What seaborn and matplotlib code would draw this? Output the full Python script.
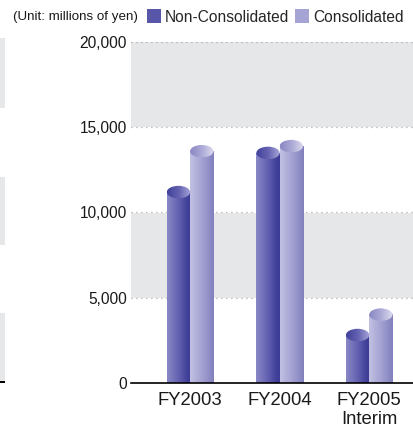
import numpy as np
import pandas as pd
import matplotlib
matplotlib.use("Agg")
import matplotlib.pyplot as plt
import seaborn as sns
from matplotlib.colors import LinearSegmentedColormap
from matplotlib.patches import Ellipse, Rectangle

# ---- data ----
periods = ["FY2003", "FY2004", "FY2005\nInterim"]
series_names = ["Non-Consolidated", "Consolidated"]
non_consolidated = [11200, 13500, 2800]
consolidated = [13600, 13900, 4000]
y_ticks = [0, 5000, 10000, 15000, 20000]
y_tick_labels = ["0", "5,000", "10,000", "15,000", "20,000"]
unit_label = "(Unit: millions of yen)"

df = pd.DataFrame({
    "period": periods * 2,
    "series": [series_names[0]] * 3 + [series_names[1]] * 3,
    "value": non_consolidated + consolidated,
})

sns.set_theme(style="white")
plt.rcParams["font.family"] = ["Liberation Sans", "DejaVu Sans"]

W, H = 414, 428
fig = plt.figure(figsize=(W / 100, H / 100), dpi=100)
ax_left, ax_right, ax_top, ax_bot = 131, 414, 42.3, 382.7
ax = fig.add_axes([ax_left / W, 1 - ax_bot / H, (ax_right - ax_left) / W, (ax_bot - ax_top) / H])

band = "#e6e7e8"
ax.axhspan(15000, 20000, color=band, lw=0, zorder=0)
ax.axhspan(5000, 10000, color=band, lw=0, zorder=0)
for yv in y_ticks[1:]:
    ax.axhline(yv, color="#8a8a8a", lw=0.9, ls=(0, (0.7, 3.3)), zorder=1)

palette = {series_names[0]: "#5a58aa", series_names[1]: "#a3a1d2"}
sns.barplot(data=df, x="period", y="value", hue="series", hue_order=series_names,
            order=periods, palette=palette, width=0.52, gap=0, ax=ax,
            saturation=1, legend=False, zorder=2)

body_maps = {
    series_names[0]: LinearSegmentedColormap.from_list(
        "nc", [(0, "#8a88c6"), (0.45, "#6664b2"), (0.85, "#40409a"), (1, "#3c3c94")]),
    series_names[1]: LinearSegmentedColormap.from_list(
        "c", [(0, "#c2c1e3"), (0.5, "#a4a2d2"), (1, "#8280bd")]),
}
top_maps = {
    series_names[0]: LinearSegmentedColormap.from_list(
        "nct", [(0, "#40409a"), (0.5, "#6462b0"), (1, "#a8a6d8")]),
    series_names[1]: LinearSegmentedColormap.from_list(
        "ct", [(0, "#8886c2"), (0.5, "#acaad6"), (1, "#dedcf0")]),
}

px_per_unit = (ax_bot - ax_top) / 20000
ell_h = 12.5 / px_per_unit

grad = np.linspace(0, 1, 256).reshape(1, -1)
for name, container in zip(series_names, ax.containers):
    for p in container.patches:
        x, w, h = p.get_x(), p.get_width(), p.get_height()
        p.set_visible(False)
        ax.imshow(grad, cmap=body_maps[name], extent=[x, x + w, 0, h], aspect="auto",
                  zorder=3, interpolation="bilinear")
        e = Ellipse((x + w / 2, h), w, ell_h, facecolor="none", edgecolor="none", zorder=4)
        ax.add_patch(e)
        im = ax.imshow(grad, cmap=top_maps[name],
                       extent=[x, x + w, h - ell_h / 2, h + ell_h / 2], aspect="auto",
                       zorder=4, interpolation="bilinear")
        im.set_clip_path(e)

ax.set_xlim(-0.66, 2.5)
ax.set_ylim(0, 20000)

for s in ["top", "right", "left"]:
    ax.spines[s].set_visible(False)
ax.spines["bottom"].set_color("black")
ax.spines["bottom"].set_linewidth(1.2)
ax.spines["bottom"].set_zorder(5)

ax.set_yticks(y_ticks)
ax.set_yticklabels(y_tick_labels, fontsize=11.2, color="#1a1a1a")
ax.tick_params(axis="y", length=0, pad=3)
ax.tick_params(axis="x", length=0, pad=7, labelsize=13.3, labelcolor="#1a1a1a")
for t in ax.get_xticklabels():
    t.set_linespacing(1.15)
    t.set_verticalalignment("top")
ax.set_xlabel("")
ax.set_ylabel("")

# Legend
handles = [Rectangle((0, 0), 1, 1, facecolor="#5856a8", edgecolor="none"),
           Rectangle((0, 0), 1, 1, facecolor="#a6a4d4", edgecolor="none")]
fig.legend(handles, series_names, loc="center left", bbox_to_anchor=(147 / W, 1 - 17 / H),
           ncol=2, frameon=False, fontsize=11.2, handlelength=0.9, handleheight=1.0,
           handletextpad=0.25, columnspacing=0.4, borderpad=0, borderaxespad=0)
fig.text(13 / W, 1 - 17 / H, unit_label, fontsize=9.6, va="center", ha="left", color="#1a1a1a")

# neighbouring panel sliver at the left edge
for y0, y1 in [(38, 108), (177, 245), (313, 381)]:
    fig.patches.append(Rectangle((0, 1 - y1 / H), 5 / W, (y1 - y0) / H,
                                 transform=fig.transFigure, facecolor=band,
                                 edgecolor="none", figure=fig))
fig.patches.append(Rectangle((0, 1 - 382.5 / H), 5 / W, 1.2 / H, transform=fig.transFigure,
                             facecolor="black", edgecolor="none", figure=fig))

fig.savefig("out.png", dpi=100)
